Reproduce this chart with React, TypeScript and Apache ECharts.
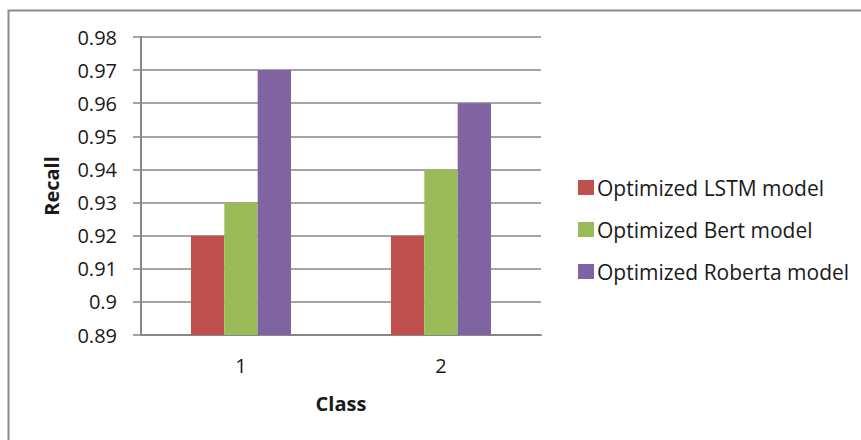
import React, { useEffect, useRef } from "react";
import * as echarts from "echarts";

const categories = ["1", "2"];
const lstm = [0.92, 0.92];
const bert = [0.93, 0.94];
const roberta = [0.97, 0.96];
const seriesNames = ["Optimized LSTM model", "Optimized Bert model", "Optimized Roberta model"];
const colors = ["#C0504D", "#9BBB59", "#8064A2"];

export default function App() {
  const ref = useRef<HTMLDivElement>(null);
  useEffect(() => {
    if (!ref.current) return;
    const chart = echarts.init(ref.current, null, { renderer: "svg" });
    const font = "'Open Sans', sans-serif";
    const gray = "#878787";
    chart.setOption({
      animation: false,
      backgroundColor: "#ffffff",
      textStyle: { fontFamily: font },
      graphic: [
        {
          type: "rect",
          shape: { x: 8.5, y: 10.5, width: 900, height: 500 },
          style: { fill: "none", stroke: "#8c8c8c", lineWidth: 2 },
          silent: true,
        },
      ],
      grid: { left: 141, top: 37, right: 320, bottom: 105, containLabel: false },
      legend: {
        orient: "vertical",
        left: 573,
        top: 172,
        itemWidth: 16,
        itemHeight: 15,
        itemGap: 21,
        icon: "rect",
        data: seriesNames,
        textStyle: { fontSize: 21, color: "#1a1a1a", fontFamily: font, padding: [0, 0, 0, -2] },
      },
      xAxis: {
        type: "category",
        data: categories,
        name: "Class",
        nameLocation: "middle",
        nameGap: 58,
        nameTextStyle: { fontSize: 20, fontWeight: "bold", color: "#1a1a1a", fontFamily: font },
        axisLine: { lineStyle: { color: gray, width: 2 } },
        axisTick: { show: false },
        axisLabel: { fontSize: 20, color: "#1a1a1a", margin: 20, fontFamily: font },
      },
      yAxis: {
        type: "value",
        min: 0.89,
        max: 0.98,
        interval: 0.01,
        name: "Recall",
        nameLocation: "middle",
        nameGap: 80,
        nameRotate: 90,
        nameTextStyle: { fontSize: 20, fontWeight: "bold", color: "#1a1a1a", fontFamily: font },
        axisLine: { show: true, lineStyle: { color: gray, width: 2 } },
        axisTick: { show: true, length: 8, lineStyle: { color: gray, width: 1.5 } },
        axisLabel: {
          fontSize: 20,
          color: "#1a1a1a",
          margin: 24,
          fontFamily: font,
          formatter: (v: number) => String(Math.round(v * 100) / 100),
        },
        splitLine: { show: true, lineStyle: { color: gray, width: 1.5 } },
      },
      series: [
        { name: seriesNames[0], type: "bar", data: lstm, itemStyle: { color: colors[0] }, barGap: "0%", barCategoryGap: "50%" },
        { name: seriesNames[1], type: "bar", data: bert, itemStyle: { color: colors[1] }, barGap: "0%", barCategoryGap: "50%" },
        { name: seriesNames[2], type: "bar", data: roberta, itemStyle: { color: colors[2] }, barGap: "0%", barCategoryGap: "50%" },
      ],
    });
    return () => chart.dispose();
  }, []);
  return (
    <div
      ref={ref}
      style={{ position: "fixed", left: 0, top: 0, width: 861, height: 440 }}
    />
  );
}
